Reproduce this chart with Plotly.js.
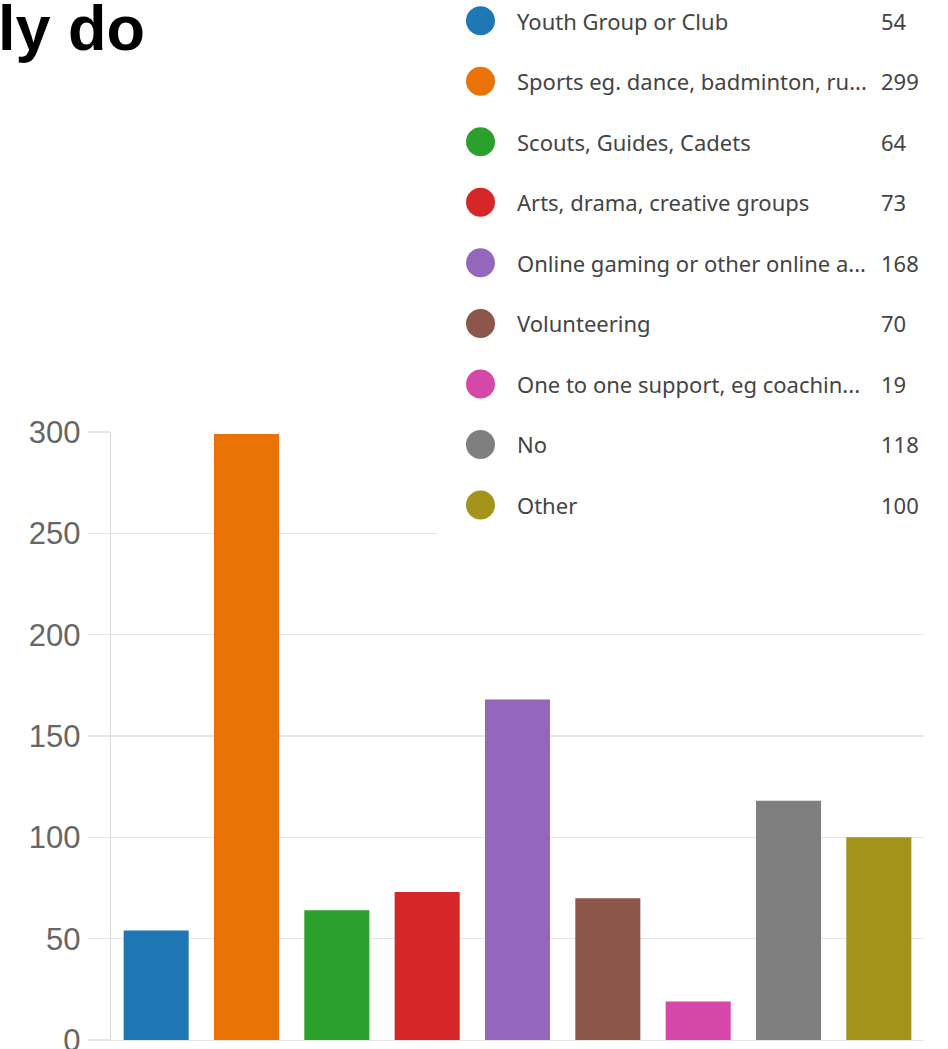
<!DOCTYPE html>
<html>
<head>
<meta charset="utf-8">
<script src="https://cdn.plot.ly/plotly-3.0.1.min.js"></script>
<style>html,body{margin:0;padding:0;background:#fff;}#chart{width:948px;height:1049px;}</style>
</head>
<body>
<div id="chart"></div>
<script>
const categories = [
  "Youth Group or Club",
  "Sports eg. dance, badminton, ru...",
  "Scouts, Guides, Cadets",
  "Arts, drama, creative groups",
  "Online gaming or other online a...",
  "Volunteering",
  "One to one support, eg coachin...",
  "No",
  "Other"
];
const counts = [54, 299, 64, 73, 168, 70, 19, 118, 100];
const colors = ["#1F77B4", "#EB7207", "#2CA02C", "#D62728", "#9467BD", "#8C564B", "#D547A8", "#7F7F7F", "#A39419"];
const yTicks = [0, 50, 100, 150, 200, 250, 300];
const titleText = "ly do";

// layout geometry (pixels)
const W = 948, H = 1049;
const L = 111, R = 24, T = 0, B = 9;
const plotW = W - L - R, plotH = H - T - B;
const barTopPx = 432;
const legendX = 480.5, legendTextX = 515, legendCountX = 879, legendY0 = 20.7, legendStep = 60.54;

const idx = categories.map((_, i) => i);

const bars = {
  type: 'bar',
  x: categories,
  y: counts,
  marker: {color: colors},
  xaxis: 'x', yaxis: 'y',
  hoverinfo: 'x+y',
  showlegend: false
};

const legendDots = {
  type: 'scatter',
  mode: 'markers',
  x: idx.map(() => legendX),
  y: idx.map(i => legendY0 + i * legendStep),
  marker: {color: colors, size: 29},
  xaxis: 'x2', yaxis: 'y2',
  hoverinfo: 'skip',
  showlegend: false
};

const legendFont = {family: 'Noto Sans', size: 22, color: '#444'};
const annotations = [];
idx.forEach(i => {
  const yy = legendY0 + i * legendStep;
  annotations.push({xref: 'x2', yref: 'y2', x: legendTextX, y: yy, xanchor: 'left', yanchor: 'middle',
    text: categories[i], showarrow: false, font: legendFont});
  annotations.push({xref: 'x2', yref: 'y2', x: legendCountX, y: yy, xanchor: 'left', yanchor: 'middle',
    text: String(counts[i]), showarrow: false, font: legendFont});
});
annotations.push({xref: 'paper', yref: 'paper', x: (-4 - L) / plotW, y: (plotH - 28) / plotH,
  xanchor: 'left', yanchor: 'middle', text: '<b>' + titleText + '</b>', showarrow: false,
  font: {family: 'Liberation Sans', size: 63, color: '#000'}});

const layout = {
  width: W, height: H,
  margin: {l: L, r: R, t: T, b: B, pad: 0},
  paper_bgcolor: '#fff',
  plot_bgcolor: 'rgba(0,0,0,0)',
  showlegend: false,
  bargap: 0.28,
  xaxis: {
    type: 'category', domain: [0, 1], showticklabels: false, showgrid: false,
    zeroline: false, showline: true, linecolor: '#E6E6E6', linewidth: 1.3,
    ticks: '', fixedrange: true, range: [-0.5, 8.5]
  },
  yaxis: {
    domain: [0, (plotH - barTopPx) / plotH], range: [0, 300],
    tickvals: yTicks, ticktext: yTicks.map(String),
    showgrid: true, gridcolor: '#E6E6E6', gridwidth: 1.3,
    zeroline: false, showline: true, linecolor: '#DCDCDC', linewidth: 1.3,
    ticks: 'outside', ticklen: 22, tickcolor: '#E6E6E6', tickwidth: 1.3,
    ticklabelstandoff: 1, ticklabeloverflow: 'allow',
    tickfont: {family: 'Liberation Sans, Arial, sans-serif', size: 31, color: '#666'}
  },
  xaxis2: {domain: [0, 1], range: [L, W - R], visible: false, anchor: 'y2', fixedrange: true},
  yaxis2: {domain: [0, 1], range: [H - B, T], visible: false, anchor: 'x2', fixedrange: true},
  shapes: [{type: 'rect', xref: 'x2', yref: 'y2', x0: 437, x1: W - R, y0: 0, y1: 540,
    fillcolor: '#fff', line: {width: 0}, layer: 'between'}],
  annotations: annotations
};

Plotly.newPlot('chart', [bars, legendDots], layout, {displayModeBar: false, staticPlot: true});
</script>
</body>
</html>
